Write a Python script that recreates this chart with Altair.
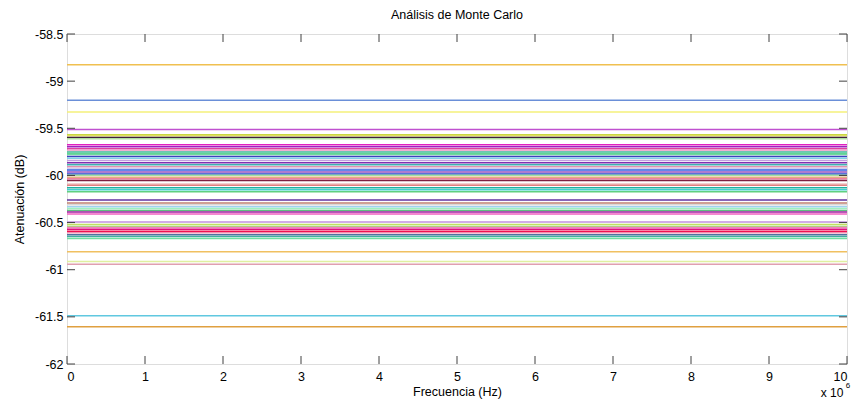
import altair as alt
import pandas as pd

# Attenuation level of each Monte Carlo run (dB), constant over frequency
levels = [
    -58.825, -59.202, -59.328, -59.514, -59.569, -59.580, -59.597, -59.611,
    -59.674, -59.695, -59.716, -59.737, -59.751, -59.768, -59.779, -59.800,
    -59.818, -59.842, -59.866, -59.887, -59.908, -59.926, -59.943, -59.964,
    -59.985, -59.999, -60.020, -60.034, -60.055, -60.090, -60.104, -60.132,
    -60.153, -60.174, -60.261, -60.292, -60.310, -60.331, -60.352, -60.373,
    -60.387, -60.408, -60.495, -60.520, -60.541, -60.551, -60.572, -60.593,
    -60.607, -60.628, -60.649, -60.670, -60.809, -60.914, -60.942, -61.487,
    -61.606,
]
colors = [
    "#f0c050", "#6a8fd8", "#f5f07a", "#c050d0", "#c8d840", "#e0e060", "#402040", "#b0e0a0",
    "#e020c0", "#a020c0", "#e040a0", "#f0b0d0", "#40c0a0", "#60d090", "#70d8a0", "#4040c0",
    "#80d0e8", "#c0a0e0", "#8030b0", "#40b0b0", "#e090b0", "#d0d0f0", "#3060e0", "#9050c0",
    "#2040d0", "#a0e0a0", "#e0b080", "#f080a0", "#802040", "#f0c0c0", "#e08080", "#20b0a0",
    "#40d0d0", "#60d080", "#6030a0", "#c08070", "#d8d8d8", "#a0d0f0", "#a0f0c0", "#60c080",
    "#a020a0", "#f060c0", "#c090e0", "#c0e060", "#a0e070", "#f080c0", "#e01080", "#f01050",
    "#f090b0", "#5070a0", "#40b0a0", "#70e0a0", "#f0c060", "#e0f0a0", "#e0a0b0", "#60c8e0",
    "#e0a040",
]
freq_span = [0, 10]  # x 10^6 Hz
x_ticks = list(range(0, 11))
y_ticks = [-62, -61.5, -61, -60.5, -60, -59.5, -59, -58.5]

rows = []
for i, lv in enumerate(levels):
    for f in freq_span:
        rows.append({"run": f"r{i:02d}", "f": f, "a": lv})
df = pd.DataFrame(rows)
run_ids = [f"r{i:02d}" for i in range(len(levels))]

W, H = 780, 330
FONT = "Liberation Sans"
LBL = "'' + datum.value"

xs = alt.Scale(domain=[0, 10], nice=False, zero=False)
ys = alt.Scale(domain=[-62, -58.5], nice=False, zero=False)

lines = alt.Chart(df).mark_line(strokeWidth=1.5, clip=True).encode(
    x=alt.X("f:Q", scale=xs,
            axis=alt.Axis(values=x_ticks, ticks=False, domain=False, grid=False,
                          labelExpr=LBL,
                          labelPadding=6, labelFontSize=12.5, labelFont=FONT, labelColor="#000",
                          title="Frecuencia (Hz)", titleFont=FONT, titleFontSize=12.5,
                          titleFontWeight="normal", titleColor="#000", titlePadding=3)),
    y=alt.Y("a:Q", scale=ys,
            axis=alt.Axis(values=y_ticks, ticks=False, domain=False, grid=False,
                          labelExpr=LBL,
                          labelPadding=4, labelFontSize=12.5, labelFont=FONT, labelColor="#000",
                          title="Atenuación (dB)", titleFont=FONT, titleFontSize=12.5,
                          titleFontWeight="normal", titleColor="#000", titlePadding=8)),
    color=alt.Color("run:N", scale=alt.Scale(domain=run_ids, range=colors), legend=None),
    detail="run:N",
)

xt = pd.DataFrame({"t": x_ticks})
yt = pd.DataFrame({"t": y_ticks})
TC = "#404040"
xbot = alt.Chart(xt).mark_rule(color=TC, strokeWidth=1).encode(
    x=alt.X("t:Q", scale=xs), y=alt.value(H), y2=alt.value(H - 8))
xtop = alt.Chart(xt).mark_rule(color=TC, strokeWidth=1).encode(
    x=alt.X("t:Q", scale=xs), y=alt.value(0), y2=alt.value(8))
yleft = alt.Chart(yt).mark_rule(color=TC, strokeWidth=1).encode(
    y=alt.Y("t:Q", scale=ys), x=alt.value(0), x2=alt.value(8))
yright = alt.Chart(yt).mark_rule(color=TC, strokeWidth=1).encode(
    y=alt.Y("t:Q", scale=ys), x=alt.value(W), x2=alt.value(W - 8))

expo = alt.Chart(pd.DataFrame({"s": ["x 10"]})).mark_text(
    font=FONT, fontSize=12, color="#000", align="center", baseline="middle").encode(
    text="s:N", x=alt.value(765), y=alt.value(359))
expo6 = alt.Chart(pd.DataFrame({"s": ["6"]})).mark_text(
    font=FONT, fontSize=8, color="#000", align="center", baseline="middle").encode(
    text="s:N", x=alt.value(781), y=alt.value(352))

chart = alt.layer(lines, xbot, xtop, yleft, yright, expo, expo6).properties(
    width=W, height=H,
    title=alt.TitleParams("Análisis de Monte Carlo", font=FONT, fontSize=12.5,
                          fontWeight="normal", color="#000", offset=7),
    autosize=alt.AutoSizeParams(type="none"),
    padding={"left": 59, "top": 26, "right": 9, "bottom": 36},
).configure_view(stroke=TC, strokeWidth=1).configure(background="white")

chart.save("out.html", embed_options={"renderer": "svg", "actions": False})
